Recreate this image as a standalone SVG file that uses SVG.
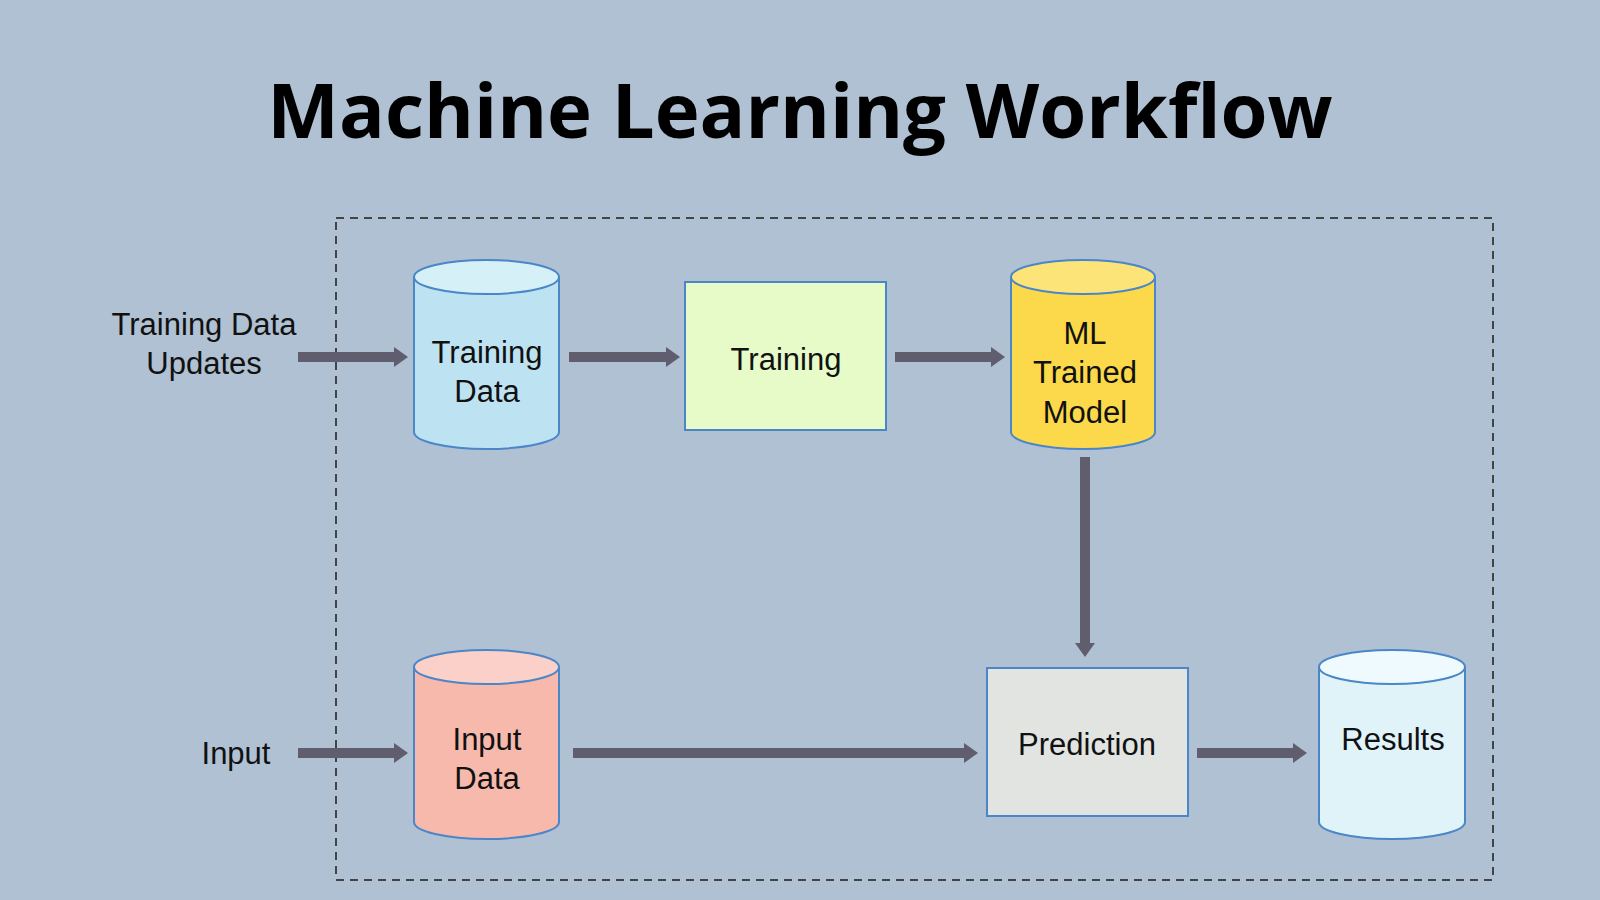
<svg xmlns="http://www.w3.org/2000/svg" width="1600" height="900" viewBox="0 0 1600 900">
<defs>
<style>
.t{font-family:"Liberation Sans",Arial,sans-serif;font-size:31px;fill:#111;text-anchor:middle}
.a{stroke:#5f5d6e;stroke-width:10;fill:none}
.h{fill:#5f5d6e}
.b{stroke:#4a86c8;stroke-width:2}
</style>
</defs>
<rect width="1600" height="900" fill="#afc1d2"/>
<text x="800" y="138" font-family="'Open Sans',Lato,sans-serif" font-weight="bold" font-size="76" text-anchor="middle" fill="#000">Machine Learning Workflow</text>
<rect x="336" y="218" width="1157" height="662" fill="none" stroke="#444" stroke-width="2" stroke-dasharray="8,6"/>
<g id="connectors">
<path class="a" d="M298 357H396"/><polygon class="h" points="394,347 408,357 394,367"/>
<path class="a" d="M569 357H668"/><polygon class="h" points="666,347 680,357 666,367"/>
<path class="a" d="M895 357H993"/><polygon class="h" points="991,347 1005,357 991,367"/>
<path class="a" d="M1085 457V645"/><polygon class="h" points="1075,643 1085,657 1095,643"/>
<path class="a" d="M298 753H396"/><polygon class="h" points="394,743 408,753 394,763"/>
<path class="a" d="M573 753H966"/><polygon class="h" points="964,743 978,753 964,763"/>
<path class="a" d="M1197 753H1295"/><polygon class="h" points="1293,743 1307,753 1293,763"/>
</g>
<g id="label-updates"><text class="t" x="204" y="335">Training Data</text><text class="t" x="204" y="374">Updates</text></g>
<g id="label-input"><text class="t" x="236" y="764">Input</text></g>
<g id="training-data">
<path class="b" d="M414 277V432A72.5 17 0 0 0 559 432V277" fill="#bde3f2"/>
<ellipse class="b" cx="486.5" cy="277" rx="72.5" ry="17" fill="#d6f0f8"/>
<text class="t" x="487" y="363">Training</text><text class="t" x="487" y="402">Data</text>
</g>
<g id="training">
<rect class="b" x="685" y="282" width="201" height="148" fill="#e6fbc8"/>
<text class="t" x="786" y="370">Training</text>
</g>
<g id="ml-model">
<path class="b" d="M1011 277V432A72 17 0 0 0 1155 432V277" fill="#fcd94a"/>
<ellipse class="b" cx="1083" cy="277" rx="72" ry="17" fill="#fde479"/>
<text class="t" x="1085" y="344">ML</text><text class="t" x="1085" y="383">Trained</text><text class="t" x="1085" y="423">Model</text>
</g>
<g id="input-data">
<path class="b" d="M414 667V822A72.5 17 0 0 0 559 822V667" fill="#f6b9ac"/>
<ellipse class="b" cx="486.5" cy="667" rx="72.5" ry="17" fill="#fad0c8"/>
<text class="t" x="487" y="750">Input</text><text class="t" x="487" y="789">Data</text>
</g>
<g id="prediction">
<rect class="b" x="987" y="668" width="201" height="148" fill="#e2e4e1"/>
<text class="t" x="1087" y="755">Prediction</text>
</g>
<g id="results">
<path class="b" d="M1319 667V822A73 17 0 0 0 1465 822V667" fill="#dff3f9"/>
<ellipse class="b" cx="1392" cy="667" rx="73" ry="17" fill="#eefafd"/>
<text class="t" x="1393" y="750">Results</text>
</g>
</svg>
